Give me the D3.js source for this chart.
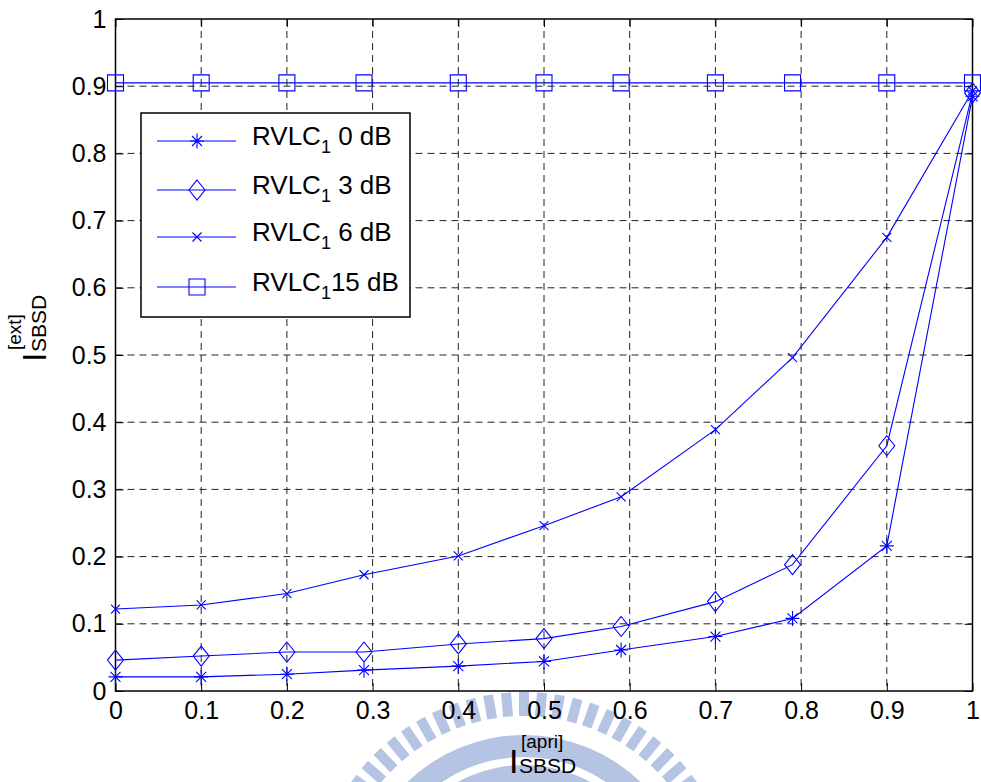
<!DOCTYPE html>
<html>
<head>
<meta charset="utf-8">
<script src="https://cdn.jsdelivr.net/npm/d3@7"></script>
<style>
  body { margin: 0; background: #fff; }
  svg { display: block; font-family: "Liberation Sans", Arial, sans-serif; }
</style>
</head>
<body>
<div id="chart"></div>
<script>
// values
const xVals = [0, 0.1, 0.2, 0.29, 0.4, 0.5, 0.59, 0.7, 0.79, 0.9, 1];
const rvlc0dB = [0.021, 0.021, 0.025, 0.031, 0.037, 0.044, 0.061, 0.081, 0.108, 0.216, 0.885];
const rvlc3dB = [0.046, 0.052, 0.058, 0.058, 0.070, 0.078, 0.096, 0.133, 0.188, 0.365, 0.890];
const rvlc6dB = [0.122, 0.128, 0.145, 0.173, 0.201, 0.246, 0.289, 0.389, 0.496, 0.675, 0.893];
const rvlc15dB = [0.905, 0.905, 0.905, 0.905, 0.905, 0.905, 0.905, 0.905, 0.905, 0.905, 0.905];
const seriesNames = ["0 dB", "3 dB", "6 dB", "15 dB"];
const markerTypes = ["star", "diamond", "cross", "square"];
const xTicks = [0, 0.1, 0.2, 0.3, 0.4, 0.5, 0.6, 0.7, 0.8, 0.9, 1];
const yTicks = [0, 0.1, 0.2, 0.3, 0.4, 0.5, 0.6, 0.7, 0.8, 0.9, 1];

const W = 981, H = 782;
const blue = "#0000ff";

const svg = d3.select("#chart").append("svg")
  .attr("width", W).attr("height", H);

const x = d3.scaleLinear().domain([0, 1]).range([115.5, 972.5]);
const y = d3.scaleLinear().domain([0, 1]).range([691, 19]);

// faint watermark logo behind the bottom of the figure
const wm = svg.append("g").attr("transform", "translate(524,903)").attr("fill", "#b4c4e2");
d3.range(-44, 45).forEach(i => {
  const a = i * 4.9;
  wm.append("rect")
    .attr("x", -5).attr("y", -211).attr("width", 10).attr("height", 24)
    .attr("transform", `rotate(${a})`);
});
wm.append("path").attr("d", d3.arc()({ innerRadius: 146, outerRadius: 168, startAngle: -Math.PI / 2, endAngle: Math.PI / 2 }));
wm.append("path").attr("d", d3.arc()({ innerRadius: 100, outerRadius: 138, startAngle: -Math.PI / 2, endAngle: Math.PI / 2 }));

// grid
const grid = svg.append("g")
  .attr("stroke", "#222").attr("stroke-width", 1).attr("stroke-dasharray", "7,5");
grid.selectAll(".vg").data(xTicks.slice(1, -1)).enter().append("line")
  .attr("x1", d => x(d)).attr("x2", d => x(d))
  .attr("y1", y(1)).attr("y2", y(0));
grid.selectAll(".hg").data(yTicks.slice(1, -1)).enter().append("line")
  .attr("x1", x(0)).attr("x2", x(1))
  .attr("y1", d => y(d)).attr("y2", d => y(d));

// axes with inward ticks
const fmt = d => d3.format("")(d);
const axB = svg.append("g").attr("transform", `translate(0,${y(0)})`)
  .call(d3.axisBottom(x).tickValues(xTicks).tickSizeInner(-8).tickSizeOuter(0).tickPadding(10).tickFormat(fmt));
const axL = svg.append("g").attr("transform", `translate(${x(0)},0)`)
  .call(d3.axisLeft(y).tickValues(yTicks).tickSizeInner(-8).tickSizeOuter(0).tickPadding(9).tickFormat(fmt));
const axT = svg.append("g").attr("transform", `translate(0,${y(1)})`)
  .call(d3.axisTop(x).tickValues(xTicks).tickSizeInner(-8).tickSizeOuter(0).tickFormat(""));
const axR = svg.append("g").attr("transform", `translate(${x(1)},0)`)
  .call(d3.axisRight(y).tickValues(yTicks).tickSizeInner(-8).tickSizeOuter(0).tickFormat(""));
[axB, axL, axT, axR].forEach(a => {
  a.select(".domain").remove();
  a.selectAll("line").attr("stroke", "#000");
  a.selectAll("text").attr("font-size", 25).attr("fill", "#000")
    .attr("font-family", "'Liberation Sans', Arial, sans-serif");
});

svg.append("rect")
  .attr("x", x(0)).attr("y", y(1))
  .attr("width", x(1) - x(0)).attr("height", y(0) - y(1))
  .attr("fill", "none").attr("stroke", "#000").attr("stroke-width", 1.5);

// marker shapes
function markerPath(type) {
  if (type === "star") return "M-7,0H7M0,-7.5V7.5M-5,-5L5,5M-5,5L5,-5";
  if (type === "diamond") return "M0,-10L8,0L0,10L-8,0Z";
  if (type === "cross") return "M-4.5,-4.5L4.5,4.5M-4.5,4.5L4.5,-4.5";
  return "M-8,-8H8V8H-8Z";
}

const allSeries = [rvlc0dB, rvlc3dB, rvlc6dB, rvlc15dB];
const line = d3.line().x(d => x(d[0])).y(d => y(d[1]));

allSeries.forEach((vals, i) => {
  const pts = xVals.map((xv, j) => [xv, vals[j]]);
  svg.append("path").datum(pts)
    .attr("d", line).attr("fill", "none")
    .attr("stroke", blue).attr("stroke-width", 1.1);
  svg.selectAll(".m" + i).data(pts).enter().append("path")
    .attr("transform", d => `translate(${x(d[0])},${y(d[1])})`)
    .attr("d", markerPath(markerTypes[i]))
    .attr("fill", "none").attr("stroke", blue).attr("stroke-width", 1.1);
});

// legend
const lg = svg.append("g");
lg.append("rect").attr("x", 141).attr("y", 113).attr("width", 269).attr("height", 204)
  .attr("fill", "#fff").attr("stroke", "#000").attr("stroke-width", 1.5);
const rowY = [141, 190, 237, 287];
seriesNames.forEach((name, i) => {
  const ry = rowY[i];
  lg.append("line").attr("x1", 157).attr("x2", 236).attr("y1", ry).attr("y2", ry)
    .attr("stroke", blue).attr("stroke-width", 1.1);
  lg.append("path").attr("transform", `translate(197,${ry})`)
    .attr("d", markerPath(markerTypes[i]))
    .attr("fill", "none").attr("stroke", blue).attr("stroke-width", 1.1);
  const t = lg.append("text").attr("x", 252).attr("y", ry + 4)
    .attr("font-size", 26).attr("fill", "#000");
  t.append("tspan").text("RVLC");
  t.append("tspan").attr("font-size", 18).attr("dy", 8).text("1");
  t.append("tspan").attr("dy", -8).text((i === 3 ? "" : "\u00a0") + name);
});

// axis labels
const xl = svg.append("g");
xl.append("text").attr("x", 509).attr("y", 773).attr("font-size", 34).text("I");
xl.append("text").attr("x", 521).attr("y", 748).attr("font-size", 19).text("[apri]");
xl.append("text").attr("x", 519).attr("y", 773).attr("font-size", 21).text("SBSD");

const yl = svg.append("g").attr("transform", "translate(46,362) rotate(-90)");
yl.append("text").attr("x", 0).attr("y", 0).attr("font-size", 34).text("I");
yl.append("text").attr("x", 12).attr("y", -25).attr("font-size", 19).text("[ext]");
yl.append("text").attr("x", 10).attr("y", 0).attr("font-size", 21).text("SBSD");
</script>
</body>
</html>
